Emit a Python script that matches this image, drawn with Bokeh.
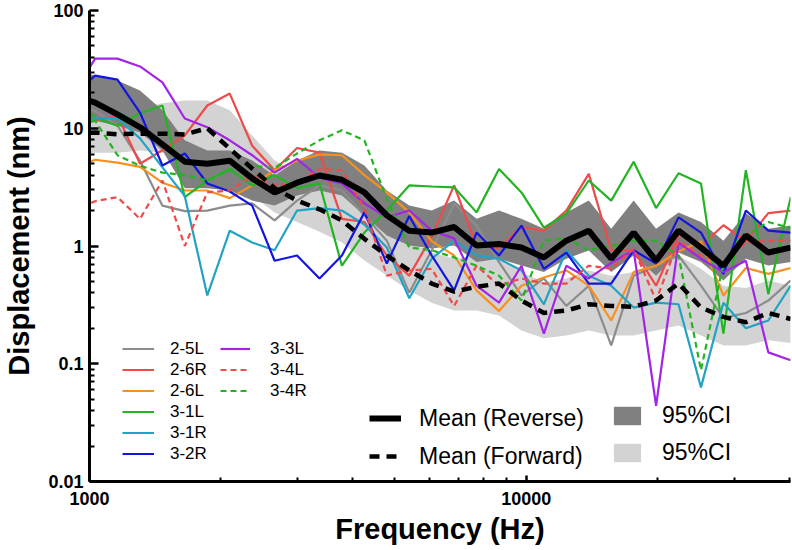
from bokeh.plotting import figure
from bokeh.models import (Legend, LegendItem, CustomJSTickFormatter, Range1d, ColumnDataSource,
                          FixedTicker)
from bokeh.embed import file_html
from bokeh.resources import INLINE

# ---- data ----
freq = [915, 1030, 1159, 1305, 1469, 1653, 1861, 2095, 2358, 2654, 2987, 3363, 3785, 4261,
        4796, 5398, 6076, 6839, 7698, 8665, 9754, 10979, 12358, 13911, 15658, 17625, 19839,
        22331, 25136, 28293, 31847, 35847, 40349]

mean_rev = [19.0, 16.5, 13.1, 10.2, 7.3, 5.2, 5.0, 5.3, 3.75, 2.85, 3.45, 3.97, 3.65, 2.85, 1.82,
            1.35, 1.30, 1.45, 1.01, 1.04, 0.97, 0.80, 1.11, 1.35, 0.78, 1.30, 0.75, 1.35, 0.97,
            0.68, 1.23, 0.88, 0.97]
rev_hi = [30.9, 28.1, 25.4, 20.9, 14.2, 7.9, 6.47, 6.47, 5.32, 3.97, 5.32, 6.47, 6.2, 4.83, 2.96,
          2.21, 2.0, 2.43, 1.7, 2.0, 1.7, 1.4, 1.93, 2.43, 1.4, 2.43, 1.4, 1.93, 1.6, 1.11, 1.9,
          1.4, 1.49]
rev_lo = [11.6, 11.6, 10.5, 9.2, 6.47, 3.1, 3.1, 2.96, 2.43, 2.21, 2.69, 2.96, 2.69, 1.82, 1.23,
          1.01, 0.95, 1.01, 0.73, 0.78, 0.683, 0.6, 0.78, 0.916, 0.6, 0.83, 0.56, 0.88, 0.73,
          0.51, 0.78, 0.683, 0.73]

mean_fwd = [9.0, 9.2, 8.9, 9.0, 9.0, 8.85, 10.0, 6.7, 4.55, 3.1, 2.43, 2.05, 1.65, 1.15, 0.83,
            0.62, 0.48, 0.41, 0.45, 0.48, 0.344, 0.27, 0.283, 0.32, 0.31, 0.305, 0.344, 0.48,
            0.30, 0.25, 0.225, 0.27, 0.24]
fwd_hi = [15.6, 14.8, 14.2, 15.0, 16.3, 17.2, 17.2, 14.2, 8.68, 5.32, 4.2, 3.45, 2.85, 2.0, 1.42,
          1.07, 0.88, 0.78, 0.83, 0.78, 0.6, 0.49, 0.53, 0.62, 0.56, 0.6, 0.72, 0.83, 0.64, 0.46,
          0.44, 0.51, 0.46]
fwd_lo = [5.87, 6.2, 6.2, 6.47, 6.2, 5.87, 5.32, 3.97, 2.69, 1.93, 1.6, 1.32, 1.07, 0.753, 0.561,
          0.419, 0.33, 0.283, 0.283, 0.257, 0.192, 0.165, 0.174, 0.192, 0.174, 0.174, 0.192,
          0.211, 0.174, 0.143, 0.143, 0.158, 0.15]

s_25L = [16, 14, 10.5, 5.3, 2.2, 1.98, 2.0, 2.2, 2.3, 1.65, 2.43, 3.27, 2.96, 1.82, 1.11, 0.40,
         0.92, 2.3, 1.49, 0.73, 0.38, 0.53, 0.31, 0.46, 0.143, 0.56, 0.68, 0.83, 0.46, 0.245,
         0.27, 0.344, 0.51]
s_26R = [10.5, 11.6, 12.8, 5.0, 6.5, 8.7, 15.6, 19.7, 7.1, 4.4, 6.8, 6.2, 1.7, 1.6, 0.83, 0.56,
         1.2, 3.27, 1.0, 0.96, 1.45, 1.35, 2.0, 4.1, 0.92, 0.92, 0.46, 1.25, 1.0, 1.5, 1.1, 1.9, 2.0]
s_26L = [4.5, 5.4, 5.1, 4.7, 3.45, 2.96, 2.96, 2.55, 3.27, 4.4, 5.3, 6.0, 5.9, 4.0, 2.85, 1.93,
         1.1, 0.83, 0.42, 0.28, 0.46, 0.54, 0.62, 0.46, 0.233, 0.6, 0.68, 0.9, 1.1, 0.38, 0.65,
         0.58, 0.65]
s_31L = [20, 12.3, 10.5, 13.4, 15.6, 2.6, 3.6, 4.5, 3.27, 4.0, 3.1, 3.4, 0.68, 1.3, 2.0, 3.27,
         3.2, 3.15, 1.93, 4.5, 2.85, 1.43, 1.88, 3.6, 2.43, 5.2, 2.1, 4.15, 3.4, 0.18, 4.4, 0.39, 2.6]
s_31R = [8.2, 12.2, 12.2, 8.2, 4.65, 2.65, 0.38, 1.35, 1.07, 0.92, 2.0, 2.1, 2.0, 1.52, 0.97,
         0.36, 0.78, 1.11, 0.83, 0.78, 0.62, 0.32, 0.92, 0.56, 0.46, 0.30, 0.33, 0.32, 0.063,
         0.33, 0.20, 0.233, 0.46]
s_32R = [19, 28, 25.9, 13.6, 4.83, 6.1, 3.4, 2.9, 2.2, 0.75, 0.83, 0.53, 0.83, 1.93, 0.71, 1.8,
         0.83, 0.42, 1.3, 0.83, 1.49, 0.64, 0.88, 0.48, 0.48, 0.92, 0.71, 1.75, 1.3, 0.58, 2.0,
         1.35, 1.3]
s_33L = [19, 39, 39, 33.5, 24.5, 12.1, 10.2, 7.9, 5.9, 4.2, 5.5, 3.8, 3.4, 2.3, 1.75, 2.0, 1.35,
         1.16, 0.46, 0.33, 0.68, 0.18, 0.68, 0.53, 0.72, 0.92, 0.044, 1.07, 0.78, 0.6, 0.75,
         0.125, 0.107]
s_34L = [2.0, 2.4, 2.6, 1.7, 3.6, 1.0, 2.85, 2.96, 3.97, 3.27, 3.45, 4.5, 4.4, 2.1, 0.56, 0.62,
         0.64, 0.31, 0.68, 0.46, 0.53, 0.48, 0.48, 0.68, 0.64, 0.95, 0.344, 1.11, 0.83, 0.72,
         1.07, 1.11, 1.11]
s_34R = [10.5, 11.6, 5.9, 4.8, 4.2, 4.0, 3.6, 4.4, 4.8, 4.6, 6.1, 7.9, 9.6, 7.9, 2.5, 0.97, 0.92,
         0.8, 0.68, 0.56, 0.344, 1.11, 1.17, 0.92, 1.0, 1.11, 1.11, 0.83, 0.088, 0.72, 1.23,
         1.6, 1.42]

series_names = ["2-5L", "2-6R", "2-6L", "3-1L", "3-1R", "3-2R", "3-3L", "3-4L", "3-4R"]
series_vals = [s_25L, s_26R, s_26L, s_31L, s_31R, s_32R, s_33L, s_34L, s_34R]
series_colors = ["#8c8c8c", "#ef4a4a", "#f7901e", "#22b422", "#23a3c4", "#1414e0", "#a424e6",
                 "#ef4a4a", "#22b422"]
series_dash = ["solid"] * 7 + ["6 4", "6 4"]

x_major = [1000, 10000]
x_minor = [2000, 3000, 4000, 5000, 6000, 7000, 8000, 9000, 20000, 30000, 40000]
y_major = [0.01, 0.1, 1, 10, 100]
y_minor = [m * d for d in (0.01, 0.1, 1, 10) for m in range(2, 10)]

src = ColumnDataSource(dict(freq=freq, mean_rev=mean_rev, rev_hi=rev_hi, rev_lo=rev_lo,
                            mean_fwd=mean_fwd, fwd_hi=fwd_hi, fwd_lo=fwd_lo,
                            **{n: v for n, v in zip(series_names, series_vals)}))

FONT = "Liberation Sans"

p = figure(width=792, height=550, x_axis_type="log", y_axis_type="log",
           x_range=Range1d(1000, 40300), y_range=Range1d(0.01, 100),
           output_backend="svg", toolbar_location=None,
           min_border_left=87, min_border_right=2, min_border_top=10, min_border_bottom=69,
           x_axis_label="Frequency (Hz)", y_axis_label="Displacement (nm)")
p.grid.visible = False
p.outline_line_color = None
p.background_fill_color = "white"

fmt = CustomJSTickFormatter(code="return Number(tick.toPrecision(6)).toString();")
p.xaxis[0].ticker = FixedTicker(ticks=x_major, minor_ticks=x_minor)
p.yaxis[0].ticker = FixedTicker(ticks=y_major, minor_ticks=y_minor)
for ax in (p.xaxis[0], p.yaxis[0]):
    ax.formatter = fmt
    ax.axis_line_width = 3
    ax.axis_line_color = "black"
    ax.major_tick_line_width = 2.5
    ax.minor_tick_line_width = 2
    ax.major_tick_line_color = "black"
    ax.minor_tick_line_color = "black"
    ax.major_tick_out = 0
    ax.minor_tick_out = 0
    ax.major_label_text_font = FONT
    ax.major_label_text_font_style = "bold"
    ax.major_label_text_font_size = "18px"
    ax.major_label_text_color = "black"
    ax.axis_label_text_font = FONT
    ax.axis_label_text_font_style = "bold"
    ax.axis_label_text_font_size = "29px"
    ax.axis_label_text_color = "black"
p.yaxis[0].major_tick_in = 9
p.yaxis[0].minor_tick_in = 5
p.xaxis[0].major_tick_in = 6
p.xaxis[0].minor_tick_in = 4
p.yaxis[0].major_label_standoff = 6
p.xaxis[0].major_label_standoff = 10
p.yaxis[0].axis_label_standoff = 10
p.xaxis[0].axis_label_standoff = 5

# bands
band_f = p.varea(x="freq", y1="fwd_lo", y2="fwd_hi", source=src, fill_color="#d3d3d3")
band_r = p.varea(x="freq", y1="rev_lo", y2="rev_hi", source=src, fill_color="#808080")

# individual ears
rends = []
for n, c, d in zip(series_names, series_colors, series_dash):
    r = p.line(x="freq", y=n, source=src, line_color=c, line_width=2.2, line_dash=d)
    rends.append(r)

r_fwd = p.line(x="freq", y="mean_fwd", source=src, line_color="black", line_width=4.5,
               line_dash="10 7")
r_rev = p.line(x="freq", y="mean_rev", source=src, line_color="black", line_width=6)

common = dict(background_fill_alpha=0, border_line_alpha=0, padding=0, margin=0,
              label_text_font=FONT, label_text_color="black")

leg1 = Legend(items=[LegendItem(label=n, renderers=[r]) for n, r in zip(series_names[:6], rends[:6])],
              location=(33, 17), glyph_width=32, glyph_height=21, label_height=21, spacing=0,
              label_standoff=16, label_text_font_size="17px", **common)
leg2 = Legend(items=[LegendItem(label=n, renderers=[r]) for n, r in zip(series_names[6:], rends[6:])],
              location=(131, 80), glyph_width=30, glyph_height=21, label_height=21, spacing=0,
              label_standoff=20, label_text_font_size="17px", **common)
leg3 = Legend(items=[LegendItem(label="Mean (Reverse)", renderers=[r_rev]),
                     LegendItem(label="Mean (Forward)", renderers=[r_fwd])],
              location=(280, 6), glyph_width=32, glyph_height=38, label_height=38, spacing=0,
              label_standoff=18, label_text_font_size="23px", **common)
leg4 = Legend(items=[LegendItem(label="95%CI", renderers=[band_r]),
                     LegendItem(label="95%CI", renderers=[band_f])],
              location=(521, 15), glyph_width=34, glyph_height=23, label_height=23, spacing=10,
              label_standoff=18, label_text_font_size="23px", **common)
for lg in (leg1, leg2, leg3, leg4):
    p.add_layout(lg)

open("out.html", "w").write(file_html(p, INLINE))
